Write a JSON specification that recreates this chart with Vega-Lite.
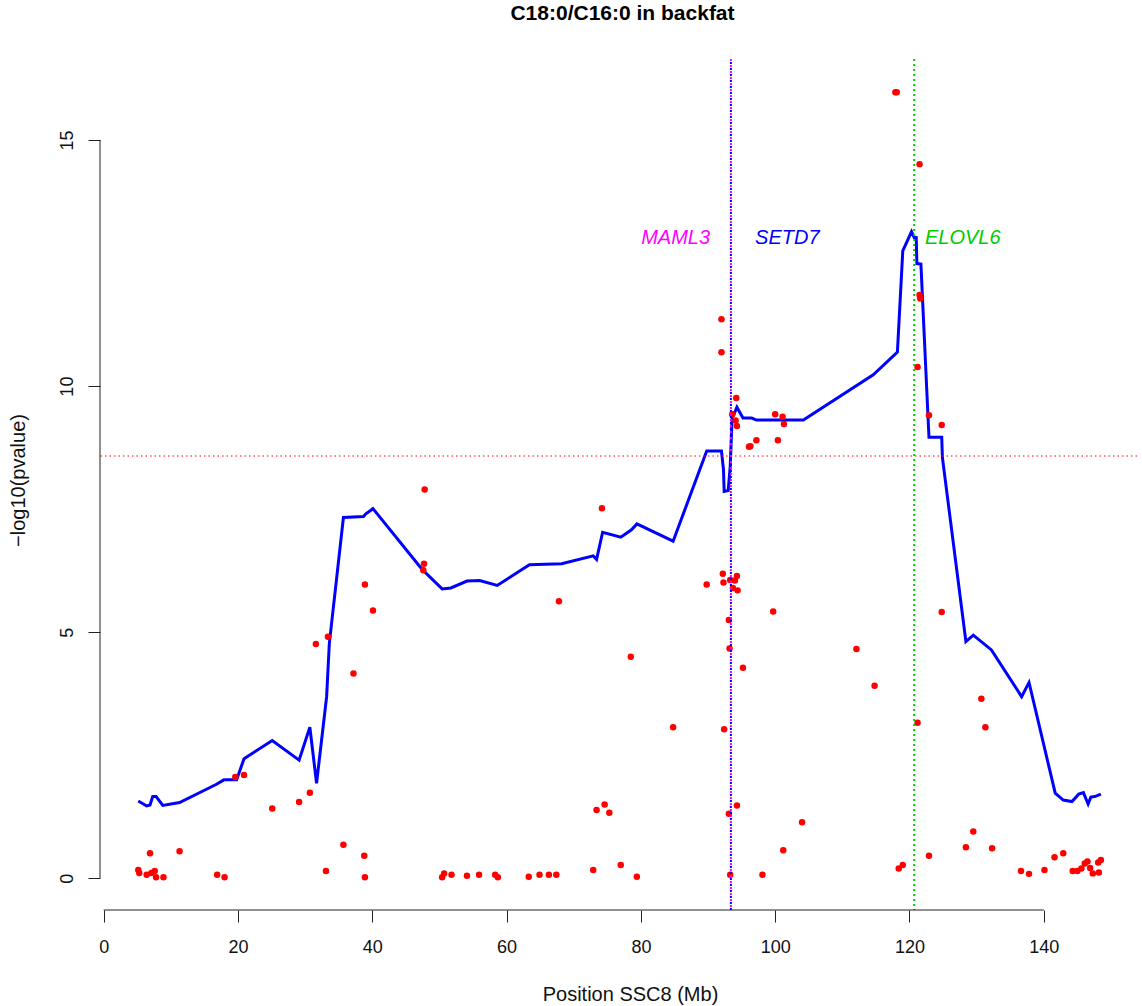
{
  "$schema": "https://vega.github.io/schema/vega-lite/v6.json",
  "autosize": {"type": "none"},
  "padding": {"left": 100, "top": 59, "right": 5, "bottom": 96},
  "width": 1037,
  "height": 851,
  "background": "white",
  "title": {
    "text": "C18:0/C16:0 in backfat",
    "font": "Liberation Sans",
    "fontSize": 21,
    "fontWeight": "bold",
    "color": "#000000",
    "anchor": "middle",
    "baseline": "alphabetic",
    "offset": 17,
    "dx": 4
  },
  "config": {
    "view": {"stroke": null},
    "font": "Liberation Sans",
    "axis": {
      "grid": false,
      "domain": false,
      "tickColor": "#222222",
      "tickWidth": 1,
      "tickSize": 12,
      "labelFont": "Liberation Sans",
      "labelFontSize": 18,
      "labelColor": "#111111",
      "titleFont": "Liberation Sans",
      "titleFontSize": 20,
      "titleFontWeight": "normal",
      "titleColor": "#111111"
    }
  },
  "datasets": {
    "curve": [
      {"pos": 5.15, "val": 1.57}, {"pos": 6.4, "val": 1.47}, {"pos": 6.9, "val": 1.49}, {"pos": 7.3, "val": 1.66},
      {"pos": 7.8, "val": 1.66}, {"pos": 8.8, "val": 1.48}, {"pos": 11.3, "val": 1.54}, {"pos": 16.8, "val": 1.91},
      {"pos": 17.9, "val": 2.0}, {"pos": 19.8, "val": 2.0}, {"pos": 20.9, "val": 2.43}, {"pos": 25.1, "val": 2.8},
      {"pos": 29.1, "val": 2.4}, {"pos": 30.7, "val": 3.07}, {"pos": 31.7, "val": 1.93}, {"pos": 33.2, "val": 3.69},
      {"pos": 33.6, "val": 4.77}, {"pos": 35.7, "val": 7.33}, {"pos": 38.7, "val": 7.35}, {"pos": 39.0, "val": 7.4},
      {"pos": 40.1, "val": 7.51}, {"pos": 47.4, "val": 6.28}, {"pos": 50.4, "val": 5.88}, {"pos": 51.7, "val": 5.9},
      {"pos": 54.1, "val": 6.04}, {"pos": 56.0, "val": 6.05}, {"pos": 58.6, "val": 5.95}, {"pos": 63.4, "val": 6.37},
      {"pos": 68.2, "val": 6.39}, {"pos": 72.9, "val": 6.55}, {"pos": 73.4, "val": 6.48}, {"pos": 74.3, "val": 7.03},
      {"pos": 77.0, "val": 6.93}, {"pos": 78.6, "val": 7.08}, {"pos": 79.4, "val": 7.2}, {"pos": 84.8, "val": 6.85},
      {"pos": 89.8, "val": 8.68}, {"pos": 92.0, "val": 8.68}, {"pos": 92.3, "val": 8.3}, {"pos": 92.4, "val": 7.86},
      {"pos": 93.0, "val": 7.88}, {"pos": 93.3, "val": 8.36}, {"pos": 93.6, "val": 9.41}, {"pos": 93.8, "val": 9.41},
      {"pos": 94.3, "val": 9.57}, {"pos": 95.2, "val": 9.35}, {"pos": 96.5, "val": 9.35}, {"pos": 97.2, "val": 9.31},
      {"pos": 104.2, "val": 9.31}, {"pos": 114.6, "val": 10.23}, {"pos": 118.2, "val": 10.69}, {"pos": 119.0, "val": 12.75},
      {"pos": 120.3, "val": 13.14}, {"pos": 120.7, "val": 13.02}, {"pos": 121.0, "val": 13.02}, {"pos": 121.1, "val": 12.49},
      {"pos": 121.7, "val": 12.48}, {"pos": 122.9, "val": 8.96}, {"pos": 124.8, "val": 8.96}, {"pos": 124.9, "val": 8.55},
      {"pos": 128.4, "val": 4.81}, {"pos": 129.5, "val": 4.94}, {"pos": 132.2, "val": 4.64}, {"pos": 136.7, "val": 3.69},
      {"pos": 137.8, "val": 3.98}, {"pos": 141.7, "val": 1.73}, {"pos": 142.9, "val": 1.59}, {"pos": 144.2, "val": 1.56},
      {"pos": 145.2, "val": 1.71}, {"pos": 145.9, "val": 1.74}, {"pos": 146.6, "val": 1.51}, {"pos": 147.0, "val": 1.65},
      {"pos": 147.6, "val": 1.66}, {"pos": 148.5, "val": 1.71}
    ],
    "snps": [
      {"pos": 47.8, "val": 7.9}, {"pos": 47.7, "val": 6.39}, {"pos": 47.6, "val": 6.26}, {"pos": 38.9, "val": 5.97},
      {"pos": 40.1, "val": 5.44}, {"pos": 33.4, "val": 4.91}, {"pos": 31.6, "val": 4.76}, {"pos": 37.2, "val": 4.16},
      {"pos": 20.9, "val": 2.1}, {"pos": 19.6, "val": 2.06}, {"pos": 30.7, "val": 1.74}, {"pos": 29.1, "val": 1.55},
      {"pos": 25.1, "val": 1.42}, {"pos": 35.7, "val": 0.68}, {"pos": 38.8, "val": 0.46}, {"pos": 6.9, "val": 0.51},
      {"pos": 11.3, "val": 0.55}, {"pos": 5.15, "val": 0.17}, {"pos": 5.3, "val": 0.11}, {"pos": 6.4, "val": 0.07},
      {"pos": 7.1, "val": 0.11}, {"pos": 7.6, "val": 0.15}, {"pos": 7.8, "val": 0.02}, {"pos": 8.9, "val": 0.02},
      {"pos": 16.9, "val": 0.07}, {"pos": 18.0, "val": 0.02}, {"pos": 33.1, "val": 0.15}, {"pos": 38.9, "val": 0.02},
      {"pos": 50.4, "val": 0.02}, {"pos": 50.7, "val": 0.1}, {"pos": 51.8, "val": 0.07}, {"pos": 54.1, "val": 0.05},
      {"pos": 55.9, "val": 0.07}, {"pos": 74.2, "val": 7.52}, {"pos": 67.8, "val": 5.63}, {"pos": 78.5, "val": 4.5},
      {"pos": 84.8, "val": 3.07}, {"pos": 89.8, "val": 5.97}, {"pos": 92.2, "val": 6.19}, {"pos": 92.3, "val": 6.01},
      {"pos": 93.3, "val": 6.06}, {"pos": 94.3, "val": 6.14}, {"pos": 94.0, "val": 6.05}, {"pos": 93.7, "val": 5.9},
      {"pos": 94.4, "val": 5.85}, {"pos": 93.1, "val": 5.25}, {"pos": 93.2, "val": 4.67}, {"pos": 95.2, "val": 4.28},
      {"pos": 99.7, "val": 5.42}, {"pos": 112.1, "val": 4.66}, {"pos": 114.8, "val": 3.91}, {"pos": 92.4, "val": 3.03},
      {"pos": 94.3, "val": 1.48}, {"pos": 93.1, "val": 1.31}, {"pos": 104.0, "val": 1.14}, {"pos": 101.2, "val": 0.57},
      {"pos": 98.1, "val": 0.07}, {"pos": 93.3, "val": 0.07}, {"pos": 74.6, "val": 1.5}, {"pos": 73.4, "val": 1.39},
      {"pos": 75.3, "val": 1.33}, {"pos": 77.0, "val": 0.27}, {"pos": 72.9, "val": 0.17}, {"pos": 79.4, "val": 0.03},
      {"pos": 58.3, "val": 0.07}, {"pos": 58.7, "val": 0.02}, {"pos": 63.3, "val": 0.03}, {"pos": 64.9, "val": 0.07},
      {"pos": 66.3, "val": 0.07}, {"pos": 67.4, "val": 0.07}, {"pos": 92.0, "val": 11.36}, {"pos": 92.0, "val": 10.69},
      {"pos": 94.2, "val": 9.76}, {"pos": 93.6, "val": 9.43}, {"pos": 94.1, "val": 9.3}, {"pos": 94.3, "val": 9.19},
      {"pos": 100.0, "val": 9.43}, {"pos": 101.1, "val": 9.38}, {"pos": 101.3, "val": 9.23}, {"pos": 100.4, "val": 8.9},
      {"pos": 97.2, "val": 8.9}, {"pos": 96.1, "val": 8.77}, {"pos": 96.3, "val": 8.78}, {"pos": 121.2, "val": 10.39},
      {"pos": 122.9, "val": 9.41}, {"pos": 124.8, "val": 9.21}, {"pos": 121.5, "val": 11.85}, {"pos": 121.6, "val": 11.78},
      {"pos": 117.9, "val": 15.97}, {"pos": 118.1, "val": 15.97}, {"pos": 121.5, "val": 14.51}, {"pos": 124.8, "val": 5.41},
      {"pos": 121.2, "val": 3.16}, {"pos": 130.7, "val": 3.65}, {"pos": 131.3, "val": 3.07}, {"pos": 129.5, "val": 0.95},
      {"pos": 128.4, "val": 0.63}, {"pos": 132.3, "val": 0.61}, {"pos": 122.9, "val": 0.46}, {"pos": 119.0, "val": 0.27},
      {"pos": 118.4, "val": 0.2}, {"pos": 136.6, "val": 0.15}, {"pos": 137.8, "val": 0.09}, {"pos": 140.1, "val": 0.17},
      {"pos": 141.6, "val": 0.43}, {"pos": 142.9, "val": 0.51}, {"pos": 144.3, "val": 0.15}, {"pos": 145.0, "val": 0.15},
      {"pos": 145.6, "val": 0.2}, {"pos": 146.1, "val": 0.3}, {"pos": 146.5, "val": 0.34}, {"pos": 146.9, "val": 0.21},
      {"pos": 147.3, "val": 0.1}, {"pos": 148.2, "val": 0.12}, {"pos": 148.1, "val": 0.32}, {"pos": 148.5, "val": 0.37}
    ],
    "genes": [
      {"gene": "MAML3", "pos": 93.4, "label_pos": 90.3, "val": 13},
      {"gene": "SETD7", "pos": 93.4, "label_pos": 97.0, "val": 13},
      {"gene": "ELOVL6", "pos": 120.7, "label_pos": 122.3, "val": 13}
    ],
    "threshold": [{"val": 8.58}],
    "one": [{}]
  },
  "layer": [
    {
      "data": {"name": "curve"},
      "mark": {"type": "line", "color": "#0000FF", "strokeWidth": 3},
      "encoding": {
        "x": {
          "field": "pos", "type": "quantitative",
          "scale": {"domain": [-0.55, 153.88], "nice": false, "zero": false},
          "title": "Position SSC8 (Mb)",
          "axis": {"values": [0, 20, 40, 60, 80, 100, 120, 140], "labelPadding": 16, "titleX": 530, "titleY": 90, "titleAlign": "center", "titleBaseline": "alphabetic"}
        },
        "y": {
          "field": "val", "type": "quantitative",
          "scale": {"domain": [-0.644, 16.646], "nice": false, "zero": false},
          "title": "\u2212log10(pvalue)",
          "axis": {"values": [0, 5, 10, 15], "labelAngle": -90, "labelPadding": 12, "titleX": -72, "titleY": 421, "titleAngle": -90, "titleAlign": "center", "titleBaseline": "bottom"}
        }
      }
    },
    {
      "data": {"name": "snps"},
      "mark": {"type": "point", "shape": "circle", "filled": true, "color": "#FF0000", "size": 42, "opacity": 1, "strokeWidth": 0},
      "encoding": {
        "x": {"field": "pos", "type": "quantitative", "title": "Position SSC8 (Mb)"},
        "y": {"field": "val", "type": "quantitative", "title": "\u2212log10(pvalue)"}
      }
    },
    {
      "data": {"name": "threshold"},
      "mark": {"type": "rule", "color": "#FF0000", "strokeWidth": 1, "strokeDash": [1.5, 3]},
      "encoding": {
        "y": {"field": "val", "type": "quantitative", "title": "\u2212log10(pvalue)"}
      }
    },
    {
      "data": {"name": "genes"},
      "transform": [{"filter": "datum.gene === 'MAML3'"}],
      "mark": {"type": "rule", "color": "#FF00FF", "strokeWidth": 2, "strokeDash": [2, 4]},
      "encoding": {
        "x": {"field": "pos", "type": "quantitative", "title": "Position SSC8 (Mb)"}
      }
    },
    {
      "data": {"name": "genes"},
      "transform": [{"filter": "datum.gene === 'SETD7'"}],
      "mark": {"type": "rule", "color": "#0000FF", "strokeWidth": 2, "strokeDash": [2, 4], "strokeDashOffset": 3},
      "encoding": {
        "x": {"field": "pos", "type": "quantitative", "title": "Position SSC8 (Mb)"}
      }
    },
    {
      "data": {"name": "genes"},
      "transform": [{"filter": "datum.gene === 'ELOVL6'"}],
      "mark": {"type": "rule", "color": "#00CC00", "strokeWidth": 2, "strokeDash": [2, 3]},
      "encoding": {
        "x": {"field": "pos", "type": "quantitative", "title": "Position SSC8 (Mb)"}
      }
    },
    {
      "data": {"name": "genes"},
      "transform": [{"filter": "datum.gene === 'MAML3'"}],
      "mark": {"type": "text", "align": "right", "baseline": "middle", "fontSize": 20, "fontStyle": "italic", "font": "Liberation Sans"},
      "encoding": {
        "x": {"field": "label_pos", "type": "quantitative", "title": "Position SSC8 (Mb)"},
        "y": {"field": "val", "type": "quantitative", "title": "\u2212log10(pvalue)"},
        "text": {"field": "gene"},
        "color": {"field": "gene", "type": "nominal", "scale": {"domain": ["MAML3", "SETD7", "ELOVL6"], "range": ["#FF00FF", "#0000FF", "#00CC00"]}, "legend": null}
      }
    },
    {
      "data": {"name": "genes"},
      "transform": [{"filter": "datum.gene !== 'MAML3'"}],
      "mark": {"type": "text", "align": "left", "baseline": "middle", "fontSize": 20, "fontStyle": "italic", "font": "Liberation Sans"},
      "encoding": {
        "x": {"field": "label_pos", "type": "quantitative", "title": "Position SSC8 (Mb)"},
        "y": {"field": "val", "type": "quantitative", "title": "\u2212log10(pvalue)"},
        "text": {"field": "gene"},
        "color": {"field": "gene", "type": "nominal", "legend": null}
      }
    },
    {
      "data": {"name": "one"},
      "mark": {"type": "rule", "color": "#222222", "strokeWidth": 1},
      "encoding": {
        "x": {"datum": 0, "type": "quantitative", "title": "Position SSC8 (Mb)"},
        "x2": {"datum": 140},
        "y": {"datum": -0.644, "type": "quantitative", "title": "\u2212log10(pvalue)"}
      }
    },
    {
      "data": {"name": "one"},
      "mark": {"type": "rule", "color": "#222222", "strokeWidth": 1},
      "encoding": {
        "x": {"datum": -0.55, "type": "quantitative", "title": "Position SSC8 (Mb)"},
        "y": {"datum": 0, "type": "quantitative", "title": "\u2212log10(pvalue)"},
        "y2": {"datum": 15}
      }
    }
  ]
}
